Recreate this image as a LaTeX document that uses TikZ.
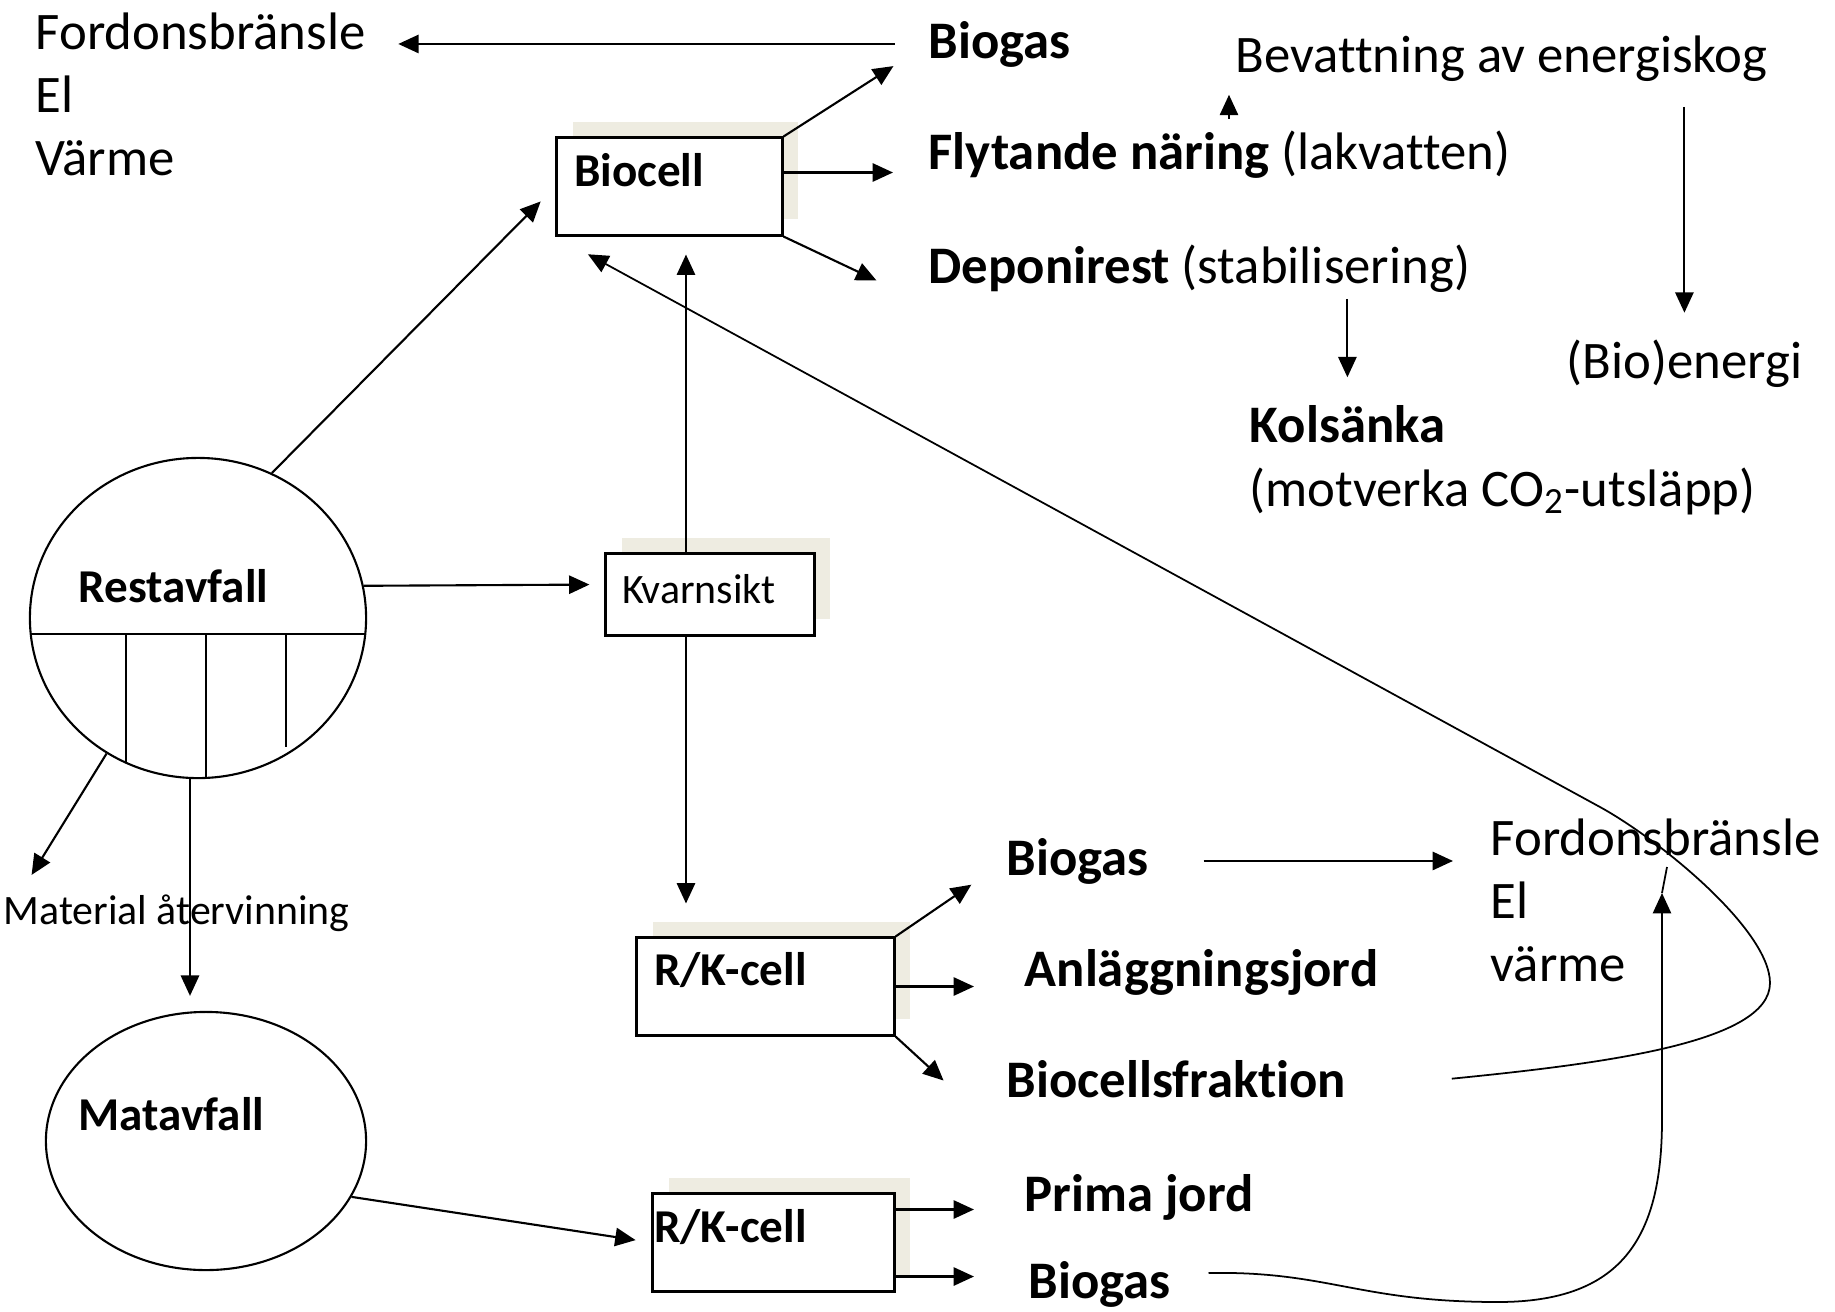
\documentclass[tikz,border=0pt]{standalone}
\usepackage{fontspec}
\setmainfont[Ligatures=NoCommon, RawFeature={-liga;-clig;-calt}]{Carlito}
\usetikzlibrary{arrows.meta,shapes.geometric,shadows}
\definecolor{cellshade}{RGB}{238,236,225}

\begin{document}
\begin{tikzpicture}[x=0.01cm, y=-0.01cm,
    txt/.style={inner sep=0pt, anchor=base west, font=\fontsize{15}{17.9}\selectfont},
    bold/.style={txt, font=\fontsize{15}{17.9}\selectfont\bfseries},
    arr/.style={line width=0.6pt, -{Triangle[length=5.8pt,width=5.2pt]}},
    loop/.style={arr, line width=0.5pt},
    cell/.style={draw, line width=0.85pt, fill=white, inner sep=0pt,
        general shadow={fill=cellshade, shadow xshift=0.16cm, shadow yshift=0.16cm}},
    celltxt/.style={inner sep=0pt, anchor=base west, font=\fontsize{13.4}{16}\selectfont\bfseries},
    waste/.style={draw, ellipse, line width=0.6pt, inner sep=0pt}]

    \useasboundingbox (0,0) rectangle (1835,1311);

    % cells
    \node[cell, minimum width=2.25cm, minimum height=0.97cm] (biocell) at (669.5,186.5) {};
    \node[celltxt] (biocelltxt) at ([shift={(18,50)}]biocell.north west) {Biocell};
    \node[cell, minimum width=2.08cm, minimum height=0.81cm] (kv) at (710,594.5) {};
    \node[celltxt, font=\fontsize{11.9}{14}\selectfont] (kvtxt) at ([shift={(17,51)}]kv.north west) {Kvarnsikt};
    \node[cell, minimum width=2.57cm, minimum height=0.97cm] (rk1) at (765.5,986.5) {};
    \node[celltxt] (rk1txt) at ([shift={(18,49)}]rk1.north west) {R/K-cell};
    \node[cell, minimum width=2.41cm, minimum height=0.97cm] (rk2) at (773.5,1242.5) {};
    \node[celltxt] (rk2txt) at ([shift={(2,50)}]rk2.north west) {R/K-cell};

    % waste
    \node[waste, minimum width=3.36cm, minimum height=3.2cm] (rest) at (198,618) {};
    \node[celltxt] (resttxt) at ([shift={(-120,-16)}]rest.center) {Restavfall};
    \draw[line width=0.6pt] ([shift={(-167,16)}]rest.center) -- ([shift={(167,16)}]rest.center);
    \foreach \dx/\dy in {-72/145, 8/160, 88/129}
    \draw[line width=0.6pt] ([shift={(\dx,16)}]rest.center) -- ([shift={(\dx,\dy)}]rest.center);
    \node[waste, minimum width=3.2cm, minimum height=2.58cm] (food) at (206,1141) {};
    \node[celltxt] (foodtxt) at ([shift={(-128,-11)}]food.center) {Matavfall};

    % products
    \node[txt, anchor=west, align=left] (fuel) at (35,94.5) {Fordonsbränsle\\El\\Värme};
    \node[bold] (gas) at (928,58) {Biogas};
    \node[txt] (liquid) at (928,169) {\textbf{Flytande näring} (lakvatten)};
    \node[txt] (resid) at (928,283) {\textbf{Deponirest} (stabilisering)};
    \node[txt] (irrig) at (1235,72) {Bevattning av energiskog};
    \node[txt] (energy) at (1566,378) {(Bio)energi};
    \node[bold] (sink) at (1249,442) {Kolsänka};
    \node[txt] (sinknote) at (1249,506) {(motverka CO\textsubscript{2}-utsläpp)};
    \node[txt, font=\fontsize{11.9}{14}\selectfont] (recyc) at (3,924) {Material återvinning};
    \node[bold] (gas2) at (1006,875) {Biogas};
    \node[bold] (soil) at (1024,986) {Anläggningsjord};
    \node[bold] (frac) at (1006,1097) {Biocellsfraktion};
    \node[txt, anchor=west, align=left] (fuel2) at (1490,900.5) {Fordonsbränsle\\El\\värme};
    \node[bold] (prime) at (1024,1211) {Prima jord};
    \node[bold] (gas3) at (1028,1298) {Biogas};
    \coordinate (fbin) at (1662,893);

    % biocell
    \draw[arr, shorten <=0.33cm, shorten >=0.32cm] (gas.west) -- (gas.west -| fuel.east);
    \draw[arr, shorten >=0.41cm] (biocell.north east) -- (gas.west);
    \draw[arr, shorten >=0.35cm] ([yshift=0.14cm]biocell.east) -- ([yshift=0.14cm]biocell.east -| liquid.west);
    \draw[arr, shorten >=0.57cm] (biocell.south east) -- ([yshift=-0.12cm]resid.south west);
    \draw[arr, shorten <=0.11cm, shorten >=0.13cm] ([xshift=-0.06cm]irrig.south west |- liquid.north) -- ([xshift=-0.06cm]irrig.south west);
    \draw[arr, shorten <=0.25cm, shorten >=0.26cm] (irrig.south -| energy.north) -- (energy.north);
    \draw[arr, shorten <=0.06cm, shorten >=0.27cm] (resid.south -| sink.north) -- (sink.north);

    % restavfall
    \draw[arr, shorten >=0.21cm] (rest.63) -- (biocell.west);
    \draw[arr, shorten >=0.15cm] (rest.11) -- ([yshift=0.1cm]kv.west);
    \draw[arr, shorten >=0.22cm] (rest.236) -- ([xshift=0.17cm]recyc.north west);
    \draw[arr, shorten >=0.15cm] ([xshift=-0.08cm]rest.south) -- ([xshift=-0.08cm]rest.south |- food.north);
    \draw[arr, shorten >=0.18cm] ([xshift=-0.24cm]kv.north) -- ([xshift=-0.24cm]kv.north |- biocell.south);
    \draw[arr, shorten >=0.33cm] ([xshift=-0.24cm]kv.south) -- ([xshift=-0.24cm]kv.south |- rk1.north);

    % R/K-cells
    \draw[arr, shorten >=0.42cm] (rk1.north east) -- (gas2.west);
    \draw[arr, shorten >=0.5cm] (rk1.east) -- (rk1.east -| soil.west);
    \draw[arr] (rk1.south east) -- ++(48,44);
    \draw[arr, shorten <=0.54cm, shorten >=0.37cm] (gas2.east) -- (gas2.east -| fuel2.west);
    \draw[arr, shorten >=0.16cm] (food.339) -- (rk2.west);
    \draw[arr, shorten >=0.5cm] ([yshift=-0.17cm]rk2.north east) -- ([yshift=-0.17cm]rk2.north east -| prime.west);
    \draw[arr, shorten >=0.54cm] ([yshift=0.16cm]rk2.south east) -- ([yshift=0.16cm]rk2.south east -| gas3.west);

    % loops back
    \draw[loop, shorten >=0.37cm] ([xshift=1.05cm]frac.east) .. controls +(150,-15) and +(0,60) .. (1770,983)
        .. controls +(0,-53) and +(60,33) .. (1600,807) -- (biocell.south west);
    \draw[loop] ([xshift=0.37cm, yshift=0.11cm]gas3.east) .. controls +(120,-2) and +(-140,0) .. (1498,1302)
        .. controls +(122,0) and +(0,120) .. (1662,1120) -- (fbin);
    \draw[line width=0.5pt] (fbin) -- ++(5,-26);

\end{tikzpicture}
\end{document}
